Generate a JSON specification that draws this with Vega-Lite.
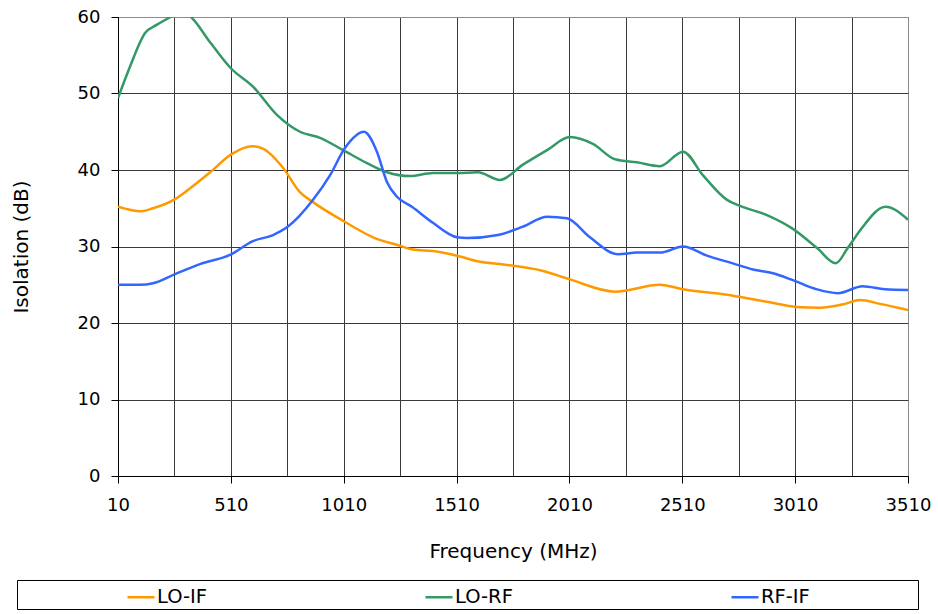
{
  "$schema": "https://vega.github.io/schema/vega-lite/v6.json",
  "width": 790,
  "height": 459,
  "autosize": "none",
  "padding": {"left": 118, "top": 17, "right": 30, "bottom": 138},
  "background": "white",
  "config": {
    "font": "DejaVu Sans",
    "view": {"stroke": "#8c8c8c", "strokeWidth": 1},
    "axis": {
      "labelFont": "DejaVu Sans", "titleFont": "DejaVu Sans",
      "labelFontSize": 18, "titleFontSize": 20, "titleFontWeight": "normal",
      "labelColor": "#000", "titleColor": "#000", "domainColor": "#000", "tickColor": "#000",
      "tickSize": 7, "gridOpacity": 1, "gridWidth": 1, "labelOverlap": false, "labelFlush": false
    }
  },
  "data": {"values": [
    {"f": 10, "s": "LO-IF", "v": 35.2},
    {"f": 63, "s": "LO-IF", "v": 34.8},
    {"f": 107, "s": "LO-IF", "v": 34.6},
    {"f": 165, "s": "LO-IF", "v": 35.0},
    {"f": 263, "s": "LO-IF", "v": 36.2},
    {"f": 320, "s": "LO-IF", "v": 37.4},
    {"f": 418, "s": "LO-IF", "v": 39.7},
    {"f": 515, "s": "LO-IF", "v": 42.1},
    {"f": 604, "s": "LO-IF", "v": 43.1},
    {"f": 652, "s": "LO-IF", "v": 42.8},
    {"f": 741, "s": "LO-IF", "v": 40.3},
    {"f": 816, "s": "LO-IF", "v": 37.1},
    {"f": 874, "s": "LO-IF", "v": 35.8},
    {"f": 1016, "s": "LO-IF", "v": 33.2},
    {"f": 1140, "s": "LO-IF", "v": 31.2},
    {"f": 1259, "s": "LO-IF", "v": 30.1},
    {"f": 1317, "s": "LO-IF", "v": 29.6},
    {"f": 1405, "s": "LO-IF", "v": 29.4},
    {"f": 1512, "s": "LO-IF", "v": 28.8},
    {"f": 1614, "s": "LO-IF", "v": 28.0},
    {"f": 1702, "s": "LO-IF", "v": 27.7},
    {"f": 1893, "s": "LO-IF", "v": 26.8},
    {"f": 2012, "s": "LO-IF", "v": 25.7},
    {"f": 2212, "s": "LO-IF", "v": 24.1},
    {"f": 2411, "s": "LO-IF", "v": 25.0},
    {"f": 2513, "s": "LO-IF", "v": 24.4},
    {"f": 2708, "s": "LO-IF", "v": 23.7},
    {"f": 2841, "s": "LO-IF", "v": 23.0},
    {"f": 2898, "s": "LO-IF", "v": 22.7},
    {"f": 3014, "s": "LO-IF", "v": 22.1},
    {"f": 3120, "s": "LO-IF", "v": 22.0},
    {"f": 3231, "s": "LO-IF", "v": 22.5},
    {"f": 3296, "s": "LO-IF", "v": 23.0},
    {"f": 3386, "s": "LO-IF", "v": 22.5},
    {"f": 3510, "s": "LO-IF", "v": 21.7},

    {"f": 10, "s": "LO-RF", "v": 49.4},
    {"f": 63, "s": "LO-RF", "v": 53.5},
    {"f": 130, "s": "LO-RF", "v": 57.9},
    {"f": 183, "s": "LO-RF", "v": 59.0},
    {"f": 249, "s": "LO-RF", "v": 60.1},
    {"f": 289, "s": "LO-RF", "v": 60.7},
    {"f": 329, "s": "LO-RF", "v": 60.1},
    {"f": 418, "s": "LO-RF", "v": 56.7},
    {"f": 510, "s": "LO-RF", "v": 53.3},
    {"f": 608, "s": "LO-RF", "v": 50.9},
    {"f": 714, "s": "LO-RF", "v": 47.2},
    {"f": 816, "s": "LO-RF", "v": 45.0},
    {"f": 905, "s": "LO-RF", "v": 44.2},
    {"f": 1007, "s": "LO-RF", "v": 42.6},
    {"f": 1113, "s": "LO-RF", "v": 40.9},
    {"f": 1202, "s": "LO-RF", "v": 39.7},
    {"f": 1304, "s": "LO-RF", "v": 39.2},
    {"f": 1405, "s": "LO-RF", "v": 39.6},
    {"f": 1512, "s": "LO-RF", "v": 39.6},
    {"f": 1605, "s": "LO-RF", "v": 39.7},
    {"f": 1702, "s": "LO-RF", "v": 38.7},
    {"f": 1804, "s": "LO-RF", "v": 40.7},
    {"f": 1911, "s": "LO-RF", "v": 42.6},
    {"f": 2012, "s": "LO-RF", "v": 44.3},
    {"f": 2114, "s": "LO-RF", "v": 43.4},
    {"f": 2212, "s": "LO-RF", "v": 41.4},
    {"f": 2309, "s": "LO-RF", "v": 41.0},
    {"f": 2411, "s": "LO-RF", "v": 40.5},
    {"f": 2513, "s": "LO-RF", "v": 42.4},
    {"f": 2602, "s": "LO-RF", "v": 39.3},
    {"f": 2708, "s": "LO-RF", "v": 36.1},
    {"f": 2766, "s": "LO-RF", "v": 35.3},
    {"f": 2885, "s": "LO-RF", "v": 34.1},
    {"f": 3000, "s": "LO-RF", "v": 32.3},
    {"f": 3107, "s": "LO-RF", "v": 29.8},
    {"f": 3190, "s": "LO-RF", "v": 27.8},
    {"f": 3243, "s": "LO-RF", "v": 29.8},
    {"f": 3300, "s": "LO-RF", "v": 32.2},
    {"f": 3411, "s": "LO-RF", "v": 35.2},
    {"f": 3510, "s": "LO-RF", "v": 33.5},

    {"f": 10, "s": "RF-IF", "v": 25.0},
    {"f": 107, "s": "RF-IF", "v": 25.0},
    {"f": 165, "s": "RF-IF", "v": 25.2},
    {"f": 263, "s": "RF-IF", "v": 26.4},
    {"f": 373, "s": "RF-IF", "v": 27.7},
    {"f": 506, "s": "RF-IF", "v": 28.9},
    {"f": 608, "s": "RF-IF", "v": 30.7},
    {"f": 697, "s": "RF-IF", "v": 31.5},
    {"f": 763, "s": "RF-IF", "v": 32.6},
    {"f": 874, "s": "RF-IF", "v": 36.1},
    {"f": 949, "s": "RF-IF", "v": 39.3},
    {"f": 1016, "s": "RF-IF", "v": 42.9},
    {"f": 1100, "s": "RF-IF", "v": 45.0},
    {"f": 1157, "s": "RF-IF", "v": 42.4},
    {"f": 1202, "s": "RF-IF", "v": 38.4},
    {"f": 1246, "s": "RF-IF", "v": 36.5},
    {"f": 1312, "s": "RF-IF", "v": 35.2},
    {"f": 1405, "s": "RF-IF", "v": 33.1},
    {"f": 1512, "s": "RF-IF", "v": 31.2},
    {"f": 1556, "s": "RF-IF", "v": 31.1},
    {"f": 1693, "s": "RF-IF", "v": 31.5},
    {"f": 1804, "s": "RF-IF", "v": 32.6},
    {"f": 1911, "s": "RF-IF", "v": 33.9},
    {"f": 1999, "s": "RF-IF", "v": 33.7},
    {"f": 2101, "s": "RF-IF", "v": 31.2},
    {"f": 2225, "s": "RF-IF", "v": 29.0},
    {"f": 2309, "s": "RF-IF", "v": 29.2},
    {"f": 2411, "s": "RF-IF", "v": 29.2},
    {"f": 2513, "s": "RF-IF", "v": 30.0},
    {"f": 2619, "s": "RF-IF", "v": 28.8},
    {"f": 2734, "s": "RF-IF", "v": 27.8},
    {"f": 2823, "s": "RF-IF", "v": 27.0},
    {"f": 2912, "s": "RF-IF", "v": 26.5},
    {"f": 3000, "s": "RF-IF", "v": 25.6},
    {"f": 3107, "s": "RF-IF", "v": 24.4},
    {"f": 3199, "s": "RF-IF", "v": 23.9},
    {"f": 3309, "s": "RF-IF", "v": 24.8},
    {"f": 3407, "s": "RF-IF", "v": 24.4},
    {"f": 3510, "s": "RF-IF", "v": 24.3}
  ]},
  "mark": {"type": "line", "interpolate": "monotone", "strokeWidth": 2.5, "clip": true},
  "encoding": {
    "x": {
      "field": "f", "type": "quantitative",
      "scale": {"domain": [10, 3510], "nice": false, "zero": false},
      "axis": {
        "title": "Frequency (MHz)",
        "values": [10, 260, 510, 760, 1010, 1260, 1510, 1760, 2010, 2260, 2510, 2760, 3010, 3260, 3510],
        "format": "d",
        "labelExpr": "(datum.value - 10) % 500 === 0 ? datum.label : ''",
        "tickOpacity": {"condition": {"test": "(datum.value - 10) % 500 === 0", "value": 1}, "value": 0},
        "gridColor": {"condition": {"test": "datum.value === 3510", "value": "#8c8c8c"}, "value": "#3a3a3a"},
        "labelPadding": 13,
        "titlePadding": 27
      }
    },
    "y": {
      "field": "v", "type": "quantitative",
      "scale": {"domain": [0, 60], "nice": false},
      "axis": {
        "title": "Isolation (dB)",
        "values": [0, 10, 20, 30, 40, 50, 60],
        "gridColor": {"condition": {"test": "datum.value === 60", "value": "#8c8c8c"}, "value": "#3a3a3a"},
        "labelPadding": 11,
        "titlePadding": 46
      }
    },
    "color": {
      "field": "s", "type": "nominal",
      "scale": {"domain": ["LO-IF", "LO-RF", "RF-IF"], "range": ["#FF9900", "#339966", "#3366FF"]},
      "legend": {
        "orient": "none", "legendX": -101, "legendY": 563,
        "direction": "horizontal", "columns": 3, "gridAlign": "each",
        "title": " ", "titleOrient": "left", "titleFontSize": 1, "titlePadding": 107,
        "padding": 2, "strokeColor": "#000",
        "symbolType": "stroke", "symbolSize": 729, "symbolStrokeWidth": 2.5,
        "labelFont": "DejaVu Sans", "labelFontSize": 19.5, "labelColor": "#000",
        "labelOffset": 1, "columnPadding": 107, "labelLimit": 500,
        "labelExpr": "datum.label + '                 \u200b'"
      }
    }
  }
}
